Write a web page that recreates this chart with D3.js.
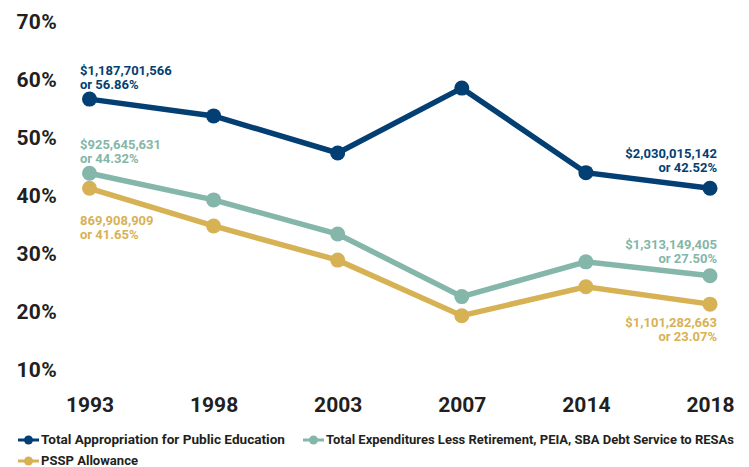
<!DOCTYPE html>
<html>
<head>
<meta charset="utf-8">
<script src="https://cdn.jsdelivr.net/npm/d3@7"></script>
<style>
    body { margin: 0; background: #fff; }
    #chart-area { width: 749px; height: 467px; }
    text { font-family: Roboto, "Open Sans", sans-serif; font-weight: 700; }
</style>
</head>
<body>
<div id="chart-area"></div>
<script>
// data
var years = ['1993', '1998', '2003', '2007', '2014', '2018'];
var appropriation = [56.6, 53.7, 47.3, 58.5, 43.9, 41.2];
var expenditures = [43.8, 39.2, 33.3, 22.5, 28.5, 26.1];
var psspAllowance = [41.2, 34.7, 28.8, 19.2, 24.2, 21.2];
var yTicks = [10, 20, 30, 40, 50, 60, 70];
var seriesNames = ['Total Appropriation for Public Education',
    'Total Expenditures Less Retirement, PEIA, SBA Debt Service to RESAs',
    'PSSP Allowance'];
var startLabels = [['$1,187,701,566', 'or 56.86%'], ['$925,645,631', 'or 44.32%'], ['869,908,909', 'or 41.65%']];
var endLabels = [['$2,030,015,142', 'or 42.52%'], ['$1,313,149,405', 'or 27.50%'], ['$1,101,282,663', 'or 23.07%']];

var colors = ['#033f73', '#84b6a9', '#d7b255'];
var series = [appropriation, expenditures, psspAllowance];

var width = 749, height = 467;

var svg = d3.select('#chart-area')
    .append('svg')
    .attr('width', width)
    .attr('height', height);

var x = d3.scalePoint()
    .domain(years)
    .range([89.5, 710]);

var y = d3.scaleLinear()
    .domain([10, 70])
    .range([369, 21.5]);

// y axis labels only
var yAxisCall = d3.axisLeft(y).tickValues(yTicks).tickSize(0).tickPadding(0)
    .tickFormat(function (d) { return d + '%'; });
var yAxisGroup = svg.append('g')
    .attr('transform', 'translate(57,0)')
    .call(yAxisCall);
yAxisGroup.select('.domain').remove();
yAxisGroup.selectAll('text')
    .attr('dy', '0.35em')
    .style('font-family', 'Roboto, sans-serif')
    .style('font-weight', 700)
    .style('font-size', '21px')
    .style('letter-spacing', '0.3px')
    .style('fill', '#231f20');

// x axis labels
var xAxisCall = d3.axisBottom(x).tickSize(0).tickPadding(0);
var xAxisGroup = svg.append('g')
    .attr('transform', 'translate(0,396)')
    .call(xAxisCall);
xAxisGroup.select('.domain').remove();
xAxisGroup.selectAll('text')
    .attr('dy', '0.75em')
    .style('font-family', 'Roboto, sans-serif')
    .style('font-weight', 700)
    .style('font-size', '21px')
    .style('fill', '#231f20');

// lines + dots
var line = d3.line()
    .x(function (d, i) { return x(years[i]); })
    .y(function (d) { return y(d); });

series.forEach(function (vals, k) {
    var g = svg.append('g').attr('class', 'series');
    g.append('path')
        .datum(vals)
        .attr('d', line)
        .attr('fill', 'none')
        .attr('stroke', colors[k])
        .attr('stroke-width', 5.5);
    g.selectAll('circle')
        .data(vals)
        .enter().append('circle')
        .attr('cx', function (d, i) { return x(years[i]); })
        .attr('cy', function (d) { return y(d); })
        .attr('r', 7.5)
        .attr('fill', colors[k]);
});

// value labels
var startBase = [75, 149, 225];
var endBase = [158, 249, 327];

function addLabel(lines, xPos, base, anchor, color) {
    var t = svg.append('text')
        .attr('x', xPos)
        .attr('y', base)
        .attr('text-anchor', anchor)
        .style('font-size', '13px')
        .style('fill', color);
    lines.forEach(function (s, i) {
        t.append('tspan')
            .attr('x', xPos)
            .attr('dy', i === 0 ? 0 : 13.5)
            .text(s);
    });
}

startLabels.forEach(function (l, k) { addLabel(l, 80, startBase[k], 'start', colors[k]); });
endLabels.forEach(function (l, k) { addLabel(l, 717, endBase[k], 'end', colors[k]); });

// legend
var legendPos = [[18, 440], [303, 440], [18, 461]];
var legendWidths = [244, 408, 97];
seriesNames.forEach(function (name, k) {
    var g = svg.append('g')
        .attr('transform', 'translate(' + legendPos[k][0] + ',' + legendPos[k][1] + ')');
    g.append('line')
        .attr('x1', 0).attr('x2', 21)
        .attr('stroke', colors[k])
        .attr('stroke-width', 3);
    g.append('circle')
        .attr('cx', 10.5)
        .attr('r', 4.5)
        .attr('fill', colors[k]);
    g.append('text')
        .attr('x', 23)
        .attr('dy', '0.35em')
        .attr('textLength', legendWidths[k])
        .attr('lengthAdjust', 'spacingAndGlyphs')
        .style('font-size', '12.5px')
        .style('fill', '#231f20')
        .text(name);
});
</script>
</body>
</html>
